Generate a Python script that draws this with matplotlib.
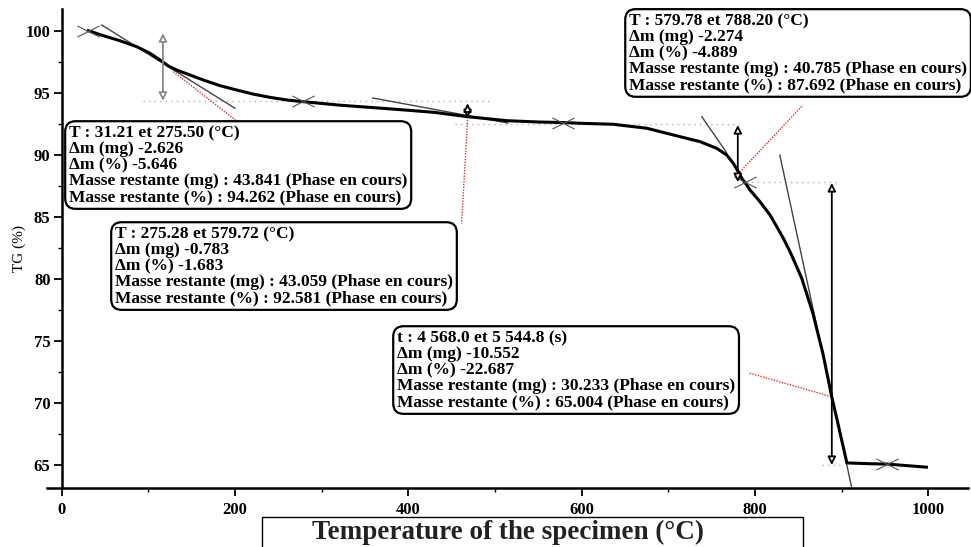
import numpy as np
import matplotlib
matplotlib.use("Agg")
import matplotlib.pyplot as plt
from matplotlib.path import Path
from matplotlib.ticker import MultipleLocator

# TG curve
temperature = [30.7, 48.0, 67.3, 86.6, 101.9, 113.5, 123.0, 132.7, 148.1, 163.4, 182.7, 202.0,
               221.2, 240.4, 259.7, 278.9, 321, 360, 398, 430, 468.6, 513.6, 552, 579, 598.2,
               636.6, 675.2, 713.7, 736.8, 756.0, 767.6, 775.1, 780.9, 784.8, 790.6, 794.4,
               805.9, 817.5, 825.3, 832.9, 840.6, 848.3, 854.1, 866.9, 878.4, 888.8, 895.7,
               906.2, 936, 952.3, 998]
tg = [100.0, 99.6, 99.19, 98.71, 98.18, 97.64, 97.16, 96.83, 96.43, 96.03, 95.57, 95.22,
      94.89, 94.63, 94.42, 94.28, 94.0, 93.8, 93.6, 93.42, 93.07, 92.75, 92.64, 92.6, 92.54,
      92.46, 92.14, 91.46, 91.06, 90.52, 89.98, 89.31, 88.64, 88.11, 87.57, 87.16,
      86.22, 85.15, 84.21, 83.27, 82.19, 80.98, 80.05, 77.25, 74.03, 70.48, 68.4,
      65.17, 65.1, 65.08, 64.83]

# step limits (crosses)
cross_x = [30.7, 278.0, 579.0, 788.2, 952.3]
cross_y = [100.0, 94.3, 92.6, 87.8, 65.08]

# tangents (x0, y0, x1, y1)
tangents = [(46.2, 100.46, 200.0, 93.75),
            (359.0, 94.58, 515.0, 92.56),
            (738.8, 93.07, 767.6, 90.15),
            (828.8, 89.97, 911.9, 63.15)]

# double arrows (x, top, bottom, colour)
arrows = [(116.8, 99.8, 94.35, '#888888'),
          (468.4, 94.15, 92.95, 'black'),
          (780.3, 92.4, 87.8, 'black'),
          (888.8, 87.73, 65.0, 'black')]

# dotted level lines (x0, x1, y)
levels = [(93.8, 494.0, 94.3), (453.8, 782.0, 92.5), (790.0, 894.0, 87.8), (878.0, 898.0, 65.0)]

# red leader lines (x0, y0, x1, y1)
leaders = [(128.8, 96.7, 203.4, 92.65),
           (468.4, 92.8, 461.5, 84.47),
           (782.6, 88.6, 855.3, 94.0),
           (794.1, 72.4, 888.8, 70.5)]

box_texts = [
    ["T : 31.21 et 275.50 (°C)", "Δm (mg) -2.626", "Δm (%) -5.646",
     "Masse restante (mg) : 43.841 (Phase en cours)", "Masse restante (%) : 94.262 (Phase en cours)"],
    ["T : 275.28 et 579.72 (°C)", "Δm (mg) -0.783", "Δm (%) -1.683",
     "Masse restante (mg) : 43.059 (Phase en cours)", "Masse restante (%) : 92.581 (Phase en cours)"],
    ["T : 579.78 et 788.20 (°C)", "Δm (mg) -2.274", "Δm (%) -4.889",
     "Masse restante (mg) : 40.785 (Phase en cours)", "Masse restante (%) : 87.692 (Phase en cours)"],
    ["t : 4 568.0 et 5 544.8 (s)", "Δm (mg) -10.552", "Δm (%) -22.687",
     "Masse restante (mg) : 30.233 (Phase en cours)", "Masse restante (%) : 65.004 (Phase en cours)"],
]
box_pos = [(8.4, 92.4), (61.5, 84.26), (654.8, 101.43), (387.0, 75.88)]

serif = ['Liberation Serif', 'DejaVu Serif']

fig = plt.figure(figsize=(9.71, 5.47), dpi=100)
ax = fig.add_axes([47 / 971, 59 / 547, 921 / 971, 479 / 547])
ax.set_xlim(-17, 1046)
ax.set_ylim(63.15, 101.75)

# flattened X marker
xmark = Path([(-1, -0.5), (1, 0.5), (-1, 0.5), (1, -0.5)],
             [Path.MOVETO, Path.LINETO, Path.MOVETO, Path.LINETO])

for x0, x1, y in levels:
    ax.plot([x0, x1], [y, y], color='#b0b0b0', lw=1, ls=(0, (1, 3)))
for x0, y0, x1, y1 in leaders:
    ax.plot([x0, x1], [y0, y1], color='#e03030', lw=1, ls=(0, (1, 1)))
for x0, y0, x1, y1 in tangents:
    ax.plot([x0, x1], [y0, y1], color='#444444', lw=1)

ax.plot(temperature, tg, color='black', lw=2.2, solid_joinstyle='round')
ax.plot(cross_x, cross_y, ls='none', marker=xmark, ms=16, mec='#555555', mew=0.8)

for x, top, bot, c in arrows:
    ax.annotate('', xy=(x, top), xytext=(x, bot),
                arrowprops=dict(arrowstyle='<|-|>', fc='white', ec=c, lw=1.3,
                                mutation_scale=12, shrinkA=0, shrinkB=0))

for lines, (tx, ty) in zip(box_texts, box_pos):
    ax.text(tx, ty, "\n".join(lines), ha='left', va='top', fontsize=12.5,
            family=serif, fontweight='bold', linespacing=1.0, zorder=5,
            bbox=dict(boxstyle='round,pad=0.22,rounding_size=0.6', fc='white',
                      ec='black', lw=1.6))

# axes styling
for s in ['top', 'right']:
    ax.spines[s].set_visible(False)
ax.spines['left'].set_position(('data', 0))
ax.spines['left'].set_linewidth(1.8)
ax.spines['bottom'].set_linewidth(1.8)
ax.xaxis.set_major_locator(MultipleLocator(200))
ax.xaxis.set_minor_locator(MultipleLocator(100))
ax.yaxis.set_major_locator(MultipleLocator(5))
ax.yaxis.set_minor_locator(MultipleLocator(2.5))
ax.tick_params(which='major', length=6, width=1.3, labelsize=12, pad=2)
ax.tick_params(which='minor', length=3, width=1)
ax.tick_params(axis='x', which='major', pad=4)
for lab in ax.get_xticklabels() + ax.get_yticklabels():
    lab.set_family(serif)
    lab.set_fontweight('bold')
ax.set_yticks([65, 70, 75, 80, 85, 90, 95, 100])

fig.text(19 / 971, 1 - 249 / 547, "TG (%)", rotation=90, ha='center', va='center',
         fontsize=11, family=serif)

fig.text(508 / 971, 1 - 532 / 547, "Temperature of the specimen (°C)", ha='center',
         va='center', fontsize=19.5, family=serif, fontweight='bold', color='#222222')
fig.patches.append(plt.Rectangle((262 / 971, -0.05), (803 - 262) / 971, 0.05 + 30 / 547,
                                 transform=fig.transFigure, fill=False, ec='black', lw=1))

fig.savefig("out.png", dpi=100)
